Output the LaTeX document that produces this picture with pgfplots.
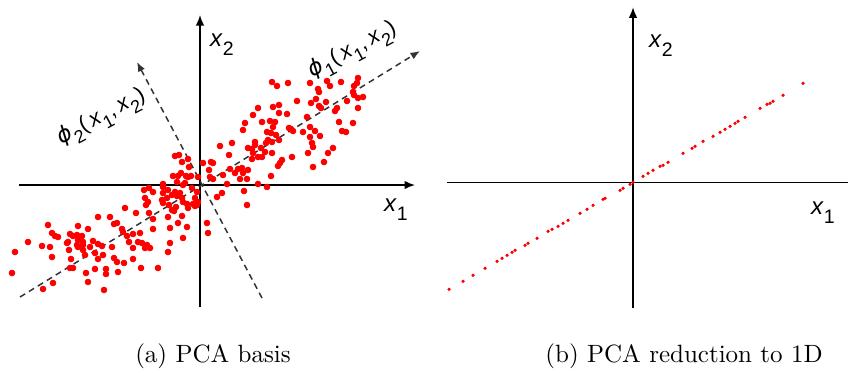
\documentclass[border=0pt]{standalone}
\usepackage{fontspec}
\usepackage{pgfplots}
\pgfplotsset{compat=1.18}
\usetikzlibrary{arrows.meta}
\newfontfamily\lab{Liberation Sans}
\newfontfamily\djv{DejaVu Sans}
\newcommand{\sub}[1]{\raisebox{-3.6pt}{\fontsize{7.8}{8}\selectfont #1}}
\newcommand{\ssub}[1]{\raisebox{-3.2pt}{\fontsize{7.2}{8}\selectfont #1}}
\newcommand{\xl}[1]{{\lab\fontsize{9.6}{10}\selectfont\textit{x}\sub{#1}}}
\newcommand{\phil}[1]{{\lab\fontsize{8.8}{10}\selectfont{\djv\textit{ϕ}}\ssub{#1}(\,\textit{x}\ssub{1},\,\textit{x}\ssub{2})}}
\begin{document}
\begin{tikzpicture}
\path[use as bounding box] (0,0) rectangle (339.2pt,-148.4pt);
\pgfplotsset{
  pcabase/.style={
    x=0.4pt, y=0.4pt,
    axis lines=middle,
    ticks=none,
    clip=false,
    anchor=origin,
    axis line style={line width=0.6pt, -{Latex[length=4.2pt,width=3.4pt]}},
  }
}
% ---------- (a) PCA basis ----------
\begin{axis}[pcabase, at={(80pt,-74pt)},
  xmin=-181, xmax=215, ymin=-122, ymax=170]
\addplot[only marks, mark=*, mark size=1.1pt, color=red, mark options={draw=red, fill=red}] coordinates {
(-185,-67) (-188,-88) (-172,-57) (-158,-61) (-150,-62) (-148,-72) (-152,-40) (-148,-48)
(-145,-51) (-142,-52) (-157,-104) (-147,-98) (-133,-58) (-132,-57) (-130,-49) (-131,-65)
(-129,-74) (-127,-83) (-130,-83) (-127,-51) (-122,-41) (-123,-50) (-123,-60) (-122,-62)
(-122,-55) (-118,-51) (-117,-57) (-117,-60) (-117,-65) (-115,-70) (-112,-44) (-110,-62)
(-107,-56) (-105,-68) (-102,-32) (-102,-59) (-102,-74) (-98,-61) (-97,-70) (-94,-84)
(-94,-89) (-96,-105) (-90,-32) (-88,-62) (-86,-39) (-83,-38) (-86,-73) (-83,-77)
(-82,-87) (-78,-44) (-77,-47) (-75,-23) (-114,-88) (-112,-97) (-105,-84) (-76,-78)
(-25,29) (-21,30) (-18,23) (-12,26) (-11,18) (-27,9) (-22,9) (-19,12) (-14,9) (-12,8)
(-9,9) (-2,8) (-23,3) (-15,2) (-17,0) (-37,1) (-37,-2) (-32,-5) (-25,-7) (-20,-8)
(-23,-11) (-28,-10) (-33,-13) (-37,-8) (-38,-15) (-37,-18) (-31,-20) (-28,-25) (-26,-26)
(-24,-22) (-18,-13) (-17,-17) (-13,-19) (-12,-23) (-7,-19) (-5,-21) (-3,-20) (-2,-17)
(-5,-13) (-3,-7) (-8,-3) (-56,-5) (-51,-3) (-47,-7) (-55,-13) (-52,-17) (-54,-20)
(-64,-28) (-51,-28) (-47,-34) (-32,-32) (-18,-31) (-22,-38) (-13,-42) (-30,-43) (-17,-53)
(-30,-58) (-47,-44) (-60,-48) (-67,-49) (-73,-51) (-71,-57) (-62,-57) (-58,-58) (-55,-63)
(-50,-63) (-53,-60) (-67,-63) (-32,-67) (7,-38) (8,-48) (-67,-74) (-59,-83) (-42,-83)
(72,103) (77,99) (73,78) (79,80) (79,72) (58,77) (53,70) (45,62) (43,55) (62,63) (70,64)
(75,63) (73,58) (67,53) (71,52) (76,50) (68,45) (72,43) (66,42) (79,45) (20,39) (32,42)
(29,30) (48,37) (52,36) (55,40) (53,32) (61,37) (65,33) (62,28) (58,28) (52,26) (55,43)
(72,32) (82,25) (80,22) (78,19) (3,22) (11,23) (13,22) (9,15) (10,8) (13,6) (23,10)
(30,16) (38,16) (42,17) (43,12) (48,15) (47,6) (40,6) (35,12) (27,1) (58,1) (67,-2)
(71,9) (22,-8) (17,-12) (47,-20) (44,-6)
(88,102) (110,102) (127,104) (130,99) (141,103) (158,107) (157,102) (154,99) (153,93)
(163,88) (158,87) (154,90) (118,96) (119,93) (97,84) (111,82) (116,86) (126,83) (119,79)
(121,77) (137,77) (135,74) (147,84) (158,77) (87,71) (107,68) (89,57) (93,54) (91,56)
(103,53) (110,58) (115,54) (110,48) (120,49) (112,42) (113,38) (108,32) (128,32) (133,37)
(92,28) (113,18) (124,23) (139,63) (142,54) (146,53) (153,62)
};
\addplot[black!80, line width=0.6pt, dash pattern=on 2.4pt off 1.8pt, -{Latex[length=3.8pt,width=3pt]}]
  coordinates {(-180,-112) (220,134)};
\addplot[black!80, line width=0.6pt, dash pattern=on 2.4pt off 1.8pt, -{Latex[length=3.8pt,width=3pt]}]
  coordinates {(62,-113) (-63,123)};
\node at (axis cs:22,140) {\xl{2}};
\node at (axis cs:196,-25) {\xl{1}};
\node[rotate=28] at (axis cs:153,134) {\phil{1}};
\node[rotate=28] at (axis cs:-98,67) {\phil{2}};
\end{axis}
% ---------- (b) PCA reduction to 1D ----------
\begin{axis}[pcabase, at={(253.2pt,-72.9pt)},
  xmin=-186, xmax=226, ymin=-126, ymax=175]
\addplot[only marks, mark=*, mark size=0.42pt, color=red, mark options={draw=red, fill=red}] coordinates {
(-184,-107) (-170,-99) (-160,-93) (-148,-86) (-136,-79) (-131,-76) (-126,-73) (-121,-70)
(-118,-68) (-108,-63) (-105,-61) (-96,-56) (-85,-49) (-81,-47) (-75,-44) (-70,-41)
(-65,-38) (-53,-31) (-46,-27) (-40,-23) (-30,-17) (-28,-16) (-13,-8) (-10,-6) (-3,-2)
(0,0) (10,6) (15,9) (20,12) (27,16) (30,17) (35,20) (50,29) (59,34) (62,36) (70,41)
(80,46) (87,50) (92,53) (97,56) (102,59) (105,61) (112,65) (127,74) (134,78) (137,79)
(140,81) (150,87) (170,99)
};
\node at (axis cs:28,137) {\xl{2}};
\node at (axis cs:190,-30) {\xl{1}};
\end{axis}
\node at (85.2pt,-142.4pt) {(a) PCA basis};
\node at (273.6pt,-142.4pt) {(b) PCA reduction to 1D};
\end{tikzpicture}
\end{document}
